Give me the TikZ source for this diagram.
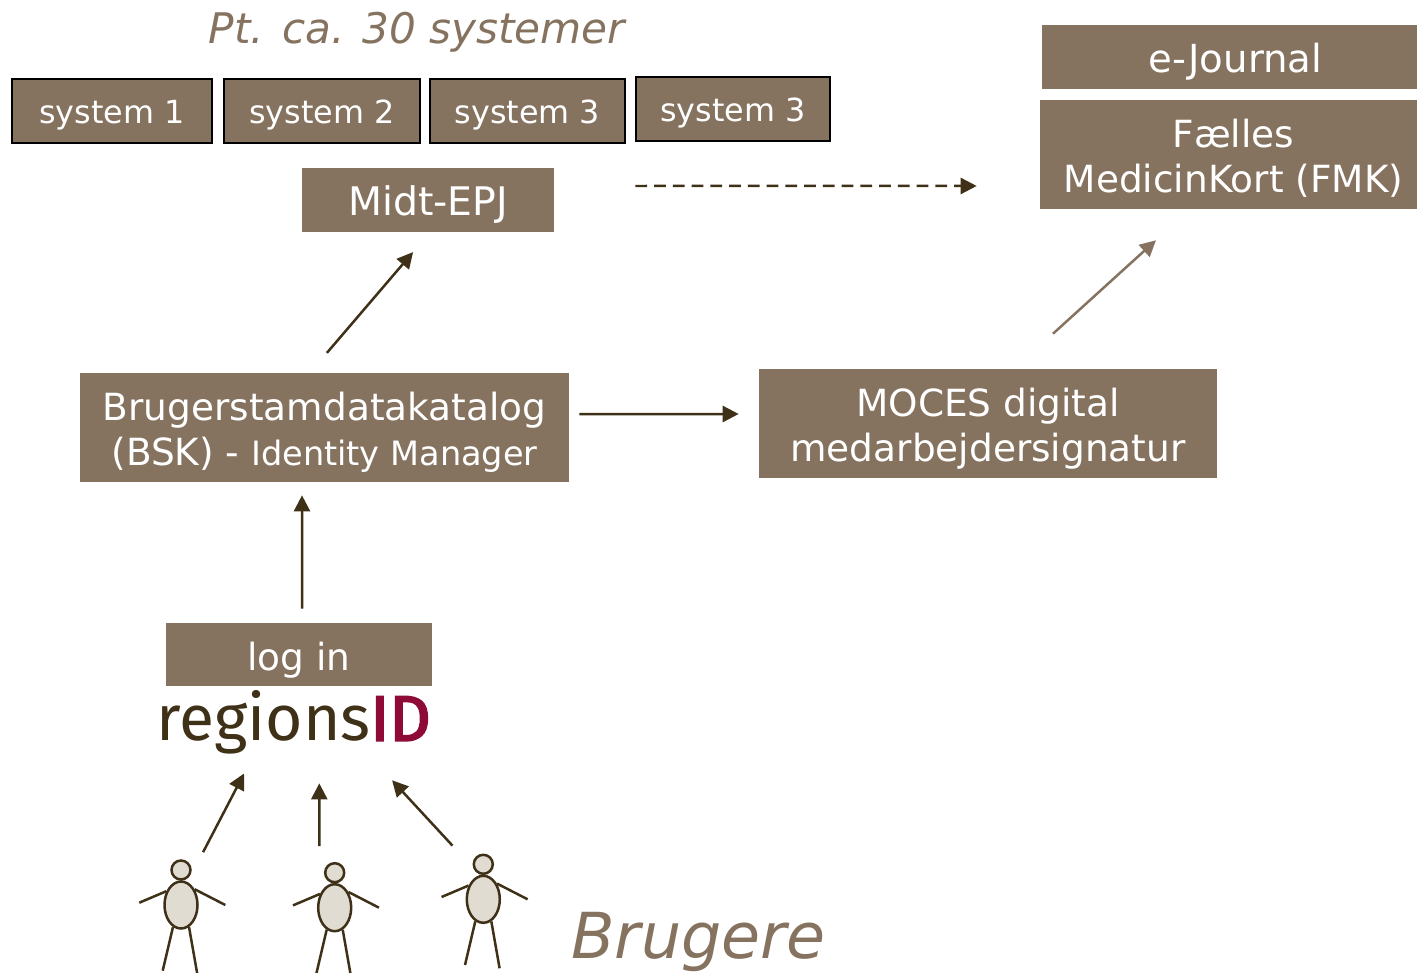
\documentclass[tikz,border=0pt]{standalone}
\usepackage{fontspec}
\setmainfont{DejaVu Sans}
\newfontfamily\logofont{Fira Sans}
\newfontfamily\logoboldfont{Fira Sans}[FakeBold=3]
\usetikzlibrary{arrows.meta,shapes.geometric}
\definecolor{boxbrown}{HTML}{857360}
\definecolor{darkbrown}{HTML}{3F3018}
\definecolor{bodygrey}{HTML}{E0DCD2}
\definecolor{logored}{HTML}{8E0B38}
\tikzstyle{box}=[rectangle,fill=boxbrown,inner sep=0pt,anchor=center,text=white,align=center,font=\fontsize{21.3}{25.5}\selectfont]
\tikzstyle{oneline}=[box,text height=0.64cm,text depth=0cm]
\tikzstyle{twoline}=[box,minimum height=2.18cm,text height=1.52cm,text depth=0cm]
\tikzstyle{sysbox}=[box,draw=black,line width=0.04cm,text height=0.52cm,text depth=0cm,font=\fontsize{18.1}{22}\selectfont]
\tikzstyle{annot}=[text=boxbrown,text height=0.64cm,text depth=0cm]
\tikzstyle{arrow}=[darkbrown,line width=0.05cm,-{Triangle[length=0.32cm,width=0.32cm]}]
\tikzstyle{limb}=[darkbrown,line width=0.05cm]
\newcommand{\drawperson}[3]
{
  \node[circle,draw=darkbrown,fill=bodygrey,line width=0.05cm,minimum size=0.38cm,inner sep=0pt](#1head) at (#2,#3){};
  \node[ellipse,draw=darkbrown,fill=bodygrey,line width=0.05cm,minimum width=0.66cm,minimum height=0.94cm,inner sep=0pt](#1body) at (#2,#3+35){};
  \draw[limb] (#1body.137) -- (#2-41.7,#3+32.7);
  \draw[limb] (#1body.49) -- (#2+44.3,#3+35);
  \draw[limb] (#1body.250) -- (#2-18.3,#3+100.7);
  \draw[limb] (#1body.290) -- (#2+16.3,#3+104);
}
\begin{document}
\begin{tikzpicture}[x=0.02cm,y=-0.02cm]
	\useasboundingbox (0,0) rectangle (1417,973);
	\clip (0,0) rectangle (1417,973);

	\node[annot,font=\fontsize{24}{28}\selectfont\itshape](title) at (417,28){Pt. ca. 30 systemer};
	\node[sysbox,minimum width=4.0cm,minimum height=1.3cm](system1) at (112,111){system 1};
	\node[sysbox,minimum width=3.92cm,minimum height=1.3cm](system2) at (322,111){system 2};
	\node[sysbox,minimum width=3.9cm,minimum height=1.3cm](system3) at (527.5,111){system 3};
	\node[sysbox,minimum width=3.9cm,minimum height=1.3cm](system4) at (733,109){system 3};

	\node[oneline,minimum width=7.5cm,minimum height=1.28cm,font=\fontsize{22}{25.5}\selectfont](journal) at (1229.5,57){\hspace*{0.24cm}e-Journal};
	\node[twoline,minimum width=7.54cm](fmk) at (1228.5,154.5){\hspace*{0.2cm}F\ae lles\\\hspace*{0.2cm}MedicinKort (FMK)};
	\node[oneline,minimum width=5.04cm,minimum height=1.28cm,font=\fontsize{22.4}{25.5}\selectfont](midt) at (428,200){Midt-EPJ};
	\node[twoline,minimum width=9.78cm](bsk) at (324.5,427.5){Brugerstamdatakatalog\\(BSK) - {\fontsize{19.1}{25.5}\selectfont Identity Manager}};
	\node[twoline,minimum width=9.16cm](moces) at (988,423.5){MOCES digital\\medarbejdersignatur};
	\node[oneline,minimum width=5.32cm,minimum height=1.26cm](login) at (299,654.5){log in};
	\node[minimum width=5.46cm,minimum height=1.3cm,inner sep=0pt,text=darkbrown,font=\fontsize{36.5}{40}\selectfont](regions) at (293.5,722.5){\logofont regions{\logoboldfont\color{logored}ID}};

	\drawperson{pa}{181}{870}
	\drawperson{pb}{334.7}{872.7}
	\drawperson{pc}{483.3}{864.3}

	\node[annot,font=\fontsize{36.1}{40}\selectfont\itshape,text height=1cm](brugere) at (698.5,933){Brugere};

	\draw[arrow,shorten <=0.52cm,shorten >=0.52cm] ([xshift=-0.29cm]bsk.north) -- ([xshift=0.04cm]midt.south);
	\draw[arrow,dash pattern=on 0.235cm off 0.14cm,shorten <=1.62cm,shorten >=1.26cm] ([yshift=0.28cm]midt.east) -- ([yshift=-0.63cm]fmk.west);
	\draw[arrow,boxbrown,shorten <=1.04cm,shorten >=0.92cm] ([xshift=0.53cm]moces.north) -- ([xshift=-0.77cm]fmk.south);
	\draw[arrow,shorten <=0.2cm,shorten >=0.4cm] ([yshift=0.27cm]bsk.east) -- ([yshift=0.19cm]moces.west);
	\draw[arrow,shorten <=0.28cm,shorten >=0.26cm] ([xshift=0.06cm]login.north) -- ([xshift=-0.45cm]bsk.south);
	\draw[arrow,shorten <=0.74cm,shorten >=0.41cm] ([shift={(0.1cm,0.4cm)}]pabody.center) -- ([xshift=-0.8cm]regions.south);
	\draw[arrow,shorten <=1.234cm,shorten >=0.56cm] ([xshift=-0.308cm]pbbody.center) -- ([xshift=0.516cm]regions.south);
	\draw[arrow,shorten <=0.85cm,shorten >=0.68cm] ([shift={(-0.04cm,0.45cm)}]pcbody.center) -- ([xshift=1.51cm]regions.south);
\end{tikzpicture}
\end{document}
